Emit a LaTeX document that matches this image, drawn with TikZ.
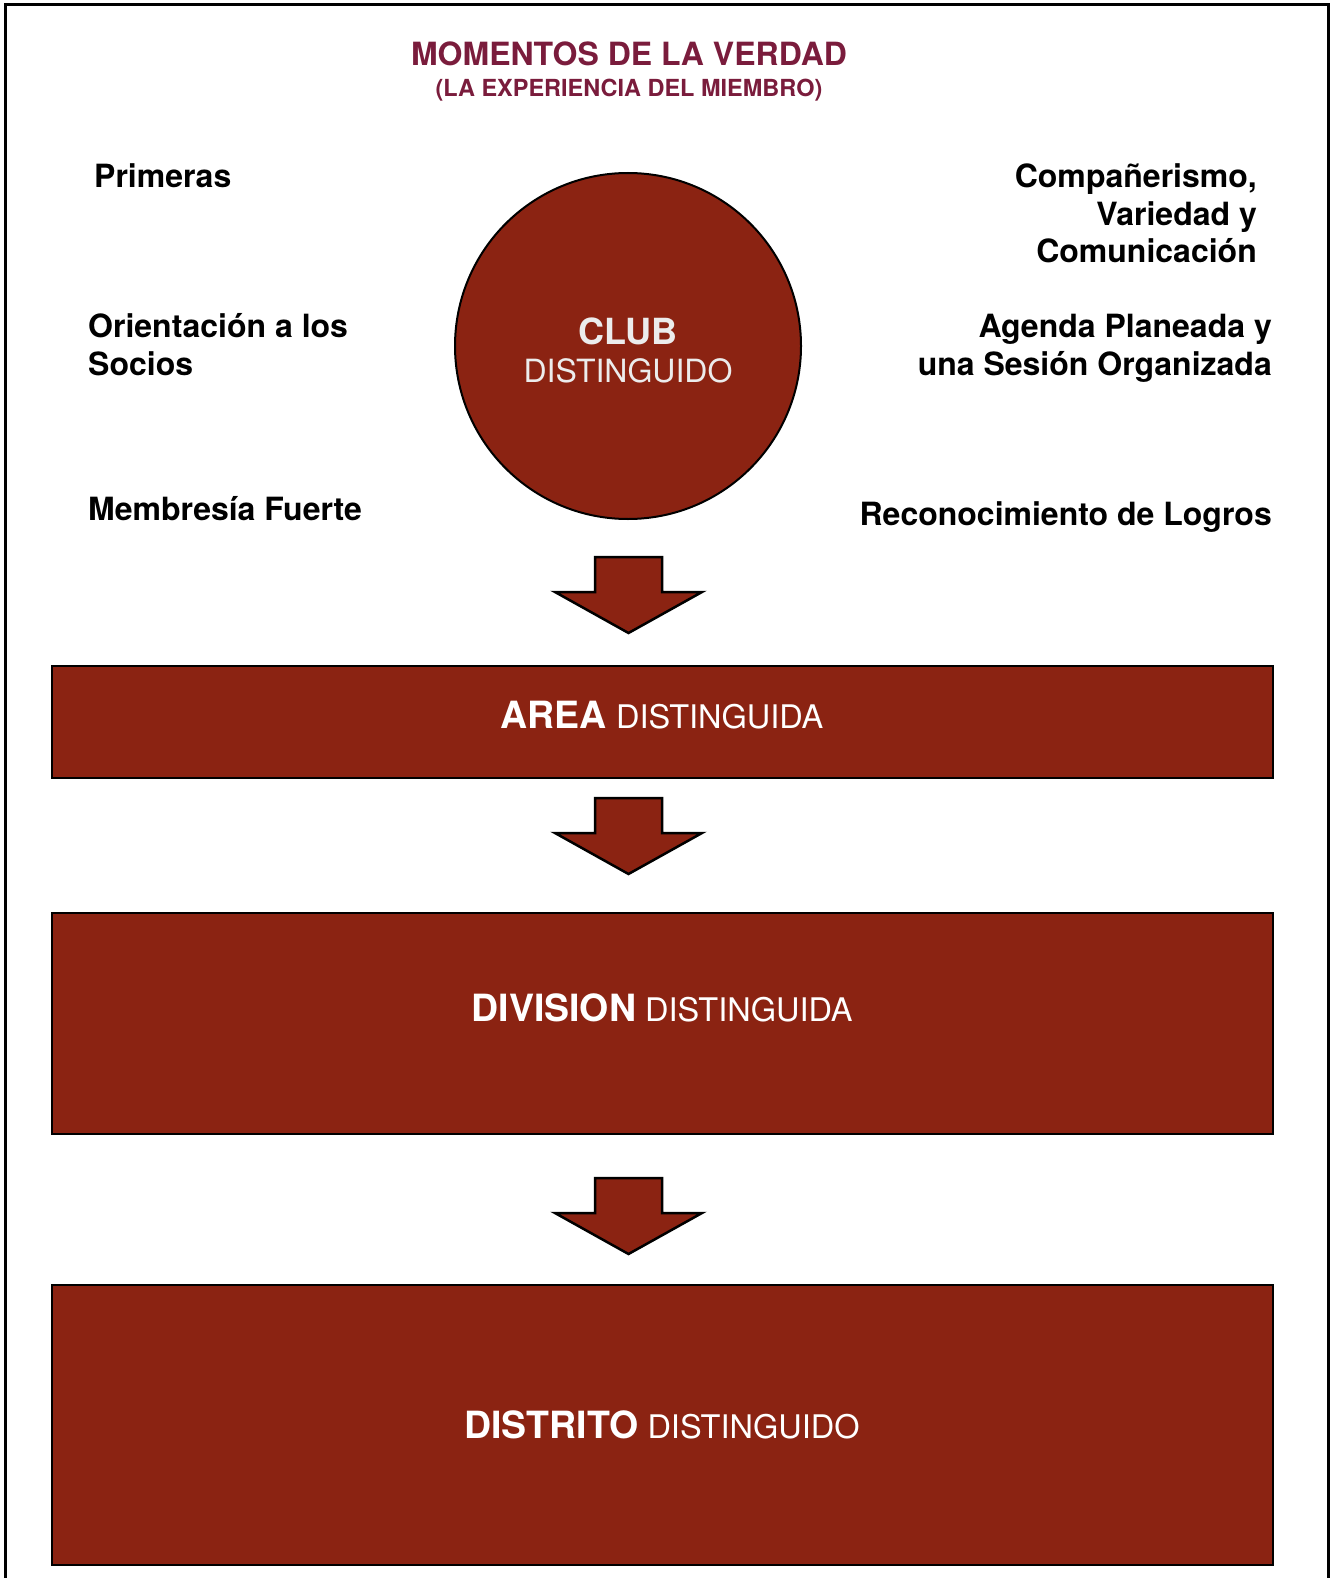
\documentclass[tikz,border=0pt]{standalone}
\usepackage{fontspec}
\setmainfont{TeX Gyre Heros}
\usetikzlibrary{positioning}
\definecolor{clubred}{RGB}{139,35,18}
\definecolor{titlered}{RGB}{122,28,60}
\definecolor{clubgray}{RGB}{236,236,236}
\newcommand{\sidesize}{\fontsize{32}{37.5}\selectfont\bfseries}
\newcommand{\levelbold}{\fontsize{37.5}{40}\selectfont\bfseries}
\tikzstyle{side} = [inner sep=0pt, font=\sidesize]
\tikzstyle{level} = [draw=black, line width=2.5pt, fill=clubred,
    minimum width=1221pt, inner sep=0pt]
\tikzstyle{leveltext} = [inner sep=0pt, text=white, anchor=base,
    font=\fontsize{32.5}{36}\selectfont]
\tikzstyle{blockarrow} = [draw=black, line width=2.5pt, fill=clubred,
    line join=miter]

\begin{document}
\begin{tikzpicture}[x=1pt,y=-1pt]
\useasboundingbox (0,0) rectangle (1330,1578);
    %frame
    \draw[line width=3pt] (5,1580) -- (5,5) -- (1328,5) -- (1328,1580);
    %title
    \node[inner sep=0pt, anchor=base, text=titlered,
        font=\fontsize{32}{38}\selectfont\bfseries] (title) at (629,66)
        {MOMENTOS DE LA VERDAD};
    \node[inner sep=0pt, anchor=base, text=titlered,
        font=\fontsize{23.5}{26}\selectfont\bfseries] (subtitle) at (629,97)
        {(LA EXPERIENCIA DEL MIEMBRO)};
    %circle
    \node[circle, draw=black, line width=2pt, fill=clubred,
        minimum size=346pt, inner sep=0pt] (club) at (628,346) {};
    \node[inner sep=0pt, anchor=base, text=clubgray,
        font=\fontsize{36}{38}\selectfont\bfseries] (clubtop) at (628,344) {CLUB};
    \node[inner sep=0pt, anchor=base, text=clubgray,
        font=\fontsize{32}{36}\selectfont] (clubbot) at (628,382) {DISTINGUIDO};
    %left texts
    \node[side, anchor=base west] (primeras) at (94,188) {Primeras};
    \node[side, anchor=base west, align=left] (orient) at (88,375)
        {Orientación a los\\Socios};
    \node[side, anchor=base west] (membresia) at (88,520) {Membresía Fuerte};
    %right texts
    \node[side, anchor=base east, align=right] (compa) at (1257,263)
        {Compañerismo,\\Variedad y\\Comunicación};
    \node[side, anchor=base east, align=right] (agenda) at (1272,375)
        {Agenda Planeada y\\una Sesión Organizada};
    \node[side, anchor=base east] (recon) at (1272,525)
        {Reconocimiento de Logros};
    %levels
    \node[level, minimum height=112pt] (area) at (662.5,722) {};
    \node[level, minimum height=221pt] (division) at (662.5,1023.5) {};
    \node[level, minimum height=280pt] (distrito) at (662.5,1425) {};
    \node[leveltext] (areatext) at (662,728)
        {{\levelbold AREA} DISTINGUIDA};
    \node[leveltext] (divisiontext) at (662,1021)
        {{\levelbold DIVISION} DISTINGUIDA};
    \node[leveltext] (distritotext) at (662,1438)
        {{\levelbold DISTRITO} DISTINGUIDO};
    %arrows
    \foreach \t in {557,798,1178} {
        \draw[blockarrow] (595,\t) -- (662,\t) -- (662,\t+35) -- (702,\t+35)
            -- (628.5,\t+76) -- (555,\t+35) -- (595,\t+35) -- cycle;
    }
\end{tikzpicture}
\end{document}
